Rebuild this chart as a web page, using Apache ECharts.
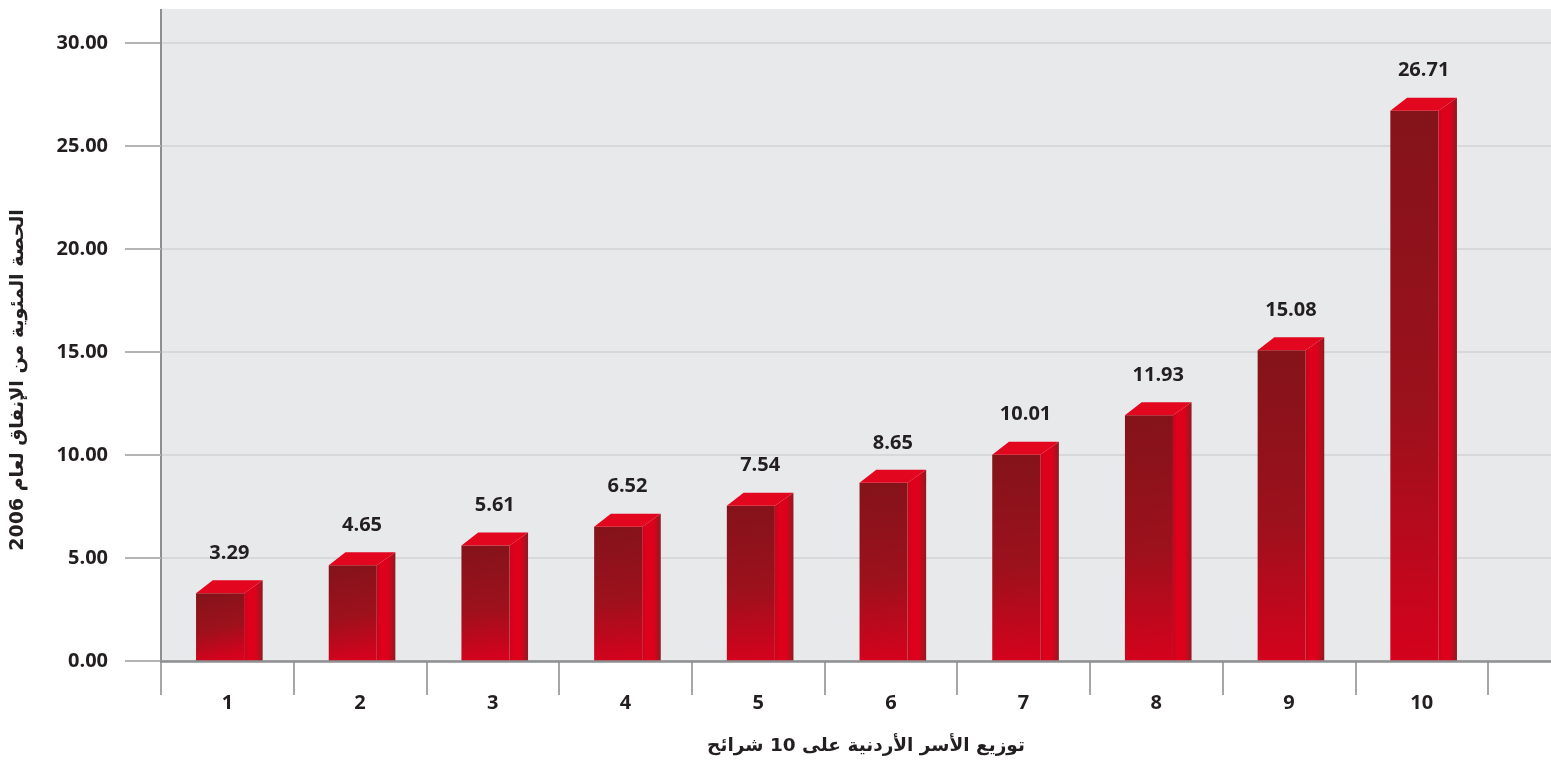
<!DOCTYPE html>
<html>
<head>
<meta charset="utf-8">
<script src="https://cdn.jsdelivr.net/npm/echarts@6/dist/echarts.min.js"></script>
<style>html,body{margin:0;padding:0;background:#fff;}#c{width:1551px;height:761px;}</style>
</head>
<body>
<div id="c"></div>
<script>
const categories = ['1','2','3','4','5','6','7','8','9','10'];
const values = [3.29, 4.65, 5.61, 6.52, 7.54, 8.65, 10.01, 11.93, 15.08, 26.71];
const yTicks = [0, 5, 10, 15, 20, 25, 30];
const xTitle = 'توزيع الأسر الأردنية على 10 شرائح';
const yTitle = 'الحصة المئوية من الإنفاق لعام 2006';

const chart = echarts.init(document.getElementById('c'), null, {renderer: 'canvas'});
const LBL = {fontFamily: 'Open Sans', fontWeight: 700, fontSize: 20, color: '#231f20'};
const AX = '#8e8f91';

function renderItem(params, api) {
  const idx = api.value(0), val = api.value(1);
  const base = api.coord([idx, 0]);
  const top = api.coord([idx, val]);
  const band = api.size([1, 0])[0];
  const fw = band * 0.362, sw = band * 0.14, d = 13;
  const cx = base[0] + 2;
  const x0 = cx - (fw + sw) / 2, x1 = x0 + fw, x2 = x1 + sw;
  const yT = top[1], yB = base[1];
  return {
    type: 'group',
    children: [
      {type: 'rect', shape: {x: x0, y: yT, width: fw, height: yB - yT},
       style: {fill: new echarts.graphic.LinearGradient(0, 0, 0.35, 1, [
         {offset: 0, color: '#84131a'}, {offset: 0.55, color: '#9c111c'}, {offset: 1, color: '#d4021d'}])}},
      {type: 'polygon', shape: {points: [[x1, yT], [x2, yT - d], [x2, yB], [x1, yB]]},
       style: {fill: new echarts.graphic.LinearGradient(0, 0, 1, 0, [
         {offset: 0, color: '#c4061c'}, {offset: 0.25, color: '#e0001b'}, {offset: 0.65, color: '#d9021c'}, {offset: 1, color: '#8e1a20'}])}},
      {type: 'polygon', shape: {points: [[x0, yT], [x0 + sw * 0.9, yT - d], [x2, yT - d], [x1, yT]]},
       style: {fill: '#e2061f'}},
      {type: 'text', x: cx, y: yT - 40,
       style: {text: val.toFixed(2), align: 'center', verticalAlign: 'middle', fill: LBL.color,
         font: LBL.fontWeight + ' ' + LBL.fontSize + 'px "' + LBL.fontFamily + '"'}}
    ]
  };
}

const option = {
  animation: false,
  backgroundColor: '#ffffff',
  graphic: [
    {type: 'rect', z: -10, shape: {x: 161, y: 9, width: 1390, height: 652}, style: {fill: '#e8e9eb'}},
    {type: 'line', z: 5, shape: {x1: 161, y1: 9, x2: 161, y2: 44}, style: {stroke: AX, lineWidth: 2}},
    {type: 'text', x: 866, y: 746, style: {text: xTitle, align: 'center', verticalAlign: 'middle',
      font: 'bold 18.5px "DejaVu Sans"', fill: '#231f20'}},
    {type: 'text', x: 18, y: 380, rotation: Math.PI / 2, style: {text: yTitle, align: 'center', verticalAlign: 'middle',
      font: 'bold 19px "DejaVu Sans"', fill: '#231f20'}}
  ],
  grid: [
    {left: 161, right: 0, top: 43, bottom: 100},
    {left: 161, right: 63, top: 43, bottom: 100}
  ],
  xAxis: [
    {gridIndex: 0, type: 'value', min: 0, max: 1, axisLine: {show: true, lineStyle: {color: AX, width: 2.5}},
     axisTick: {show: false}, axisLabel: {show: false}, splitLine: {show: false}, z: 6},
    {gridIndex: 1, type: 'category', data: categories, axisLine: {show: false},
     axisTick: {show: true, length: 34, lineStyle: {color: '#a5a6a8', width: 2}},
     axisLabel: Object.assign({margin: 32}, LBL)}
  ],
  yAxis: [
    {gridIndex: 0, type: 'value', min: 0, max: 30, interval: 5,
     axisLine: {show: true, lineStyle: {color: AX, width: 2}},
     axisTick: {show: true, length: 36, lineStyle: {color: '#b3b4b6', width: 2}},
     axisLabel: Object.assign({margin: 53, formatter: v => yTicks.indexOf(v) >= 0 ? v.toFixed(2) : ''}, LBL),
     splitLine: {show: true, lineStyle: {color: '#d7d8da', width: 2}}},
    {gridIndex: 1, type: 'value', min: 0, max: 30, interval: 5, show: false, splitLine: {show: false}}
  ],
  series: [{
    type: 'custom', xAxisIndex: 1, yAxisIndex: 1, renderItem: renderItem,
    data: values.map((v, i) => [i, v]), z: 3
  }]
};
chart.setOption(option);
</script>
</body>
</html>
